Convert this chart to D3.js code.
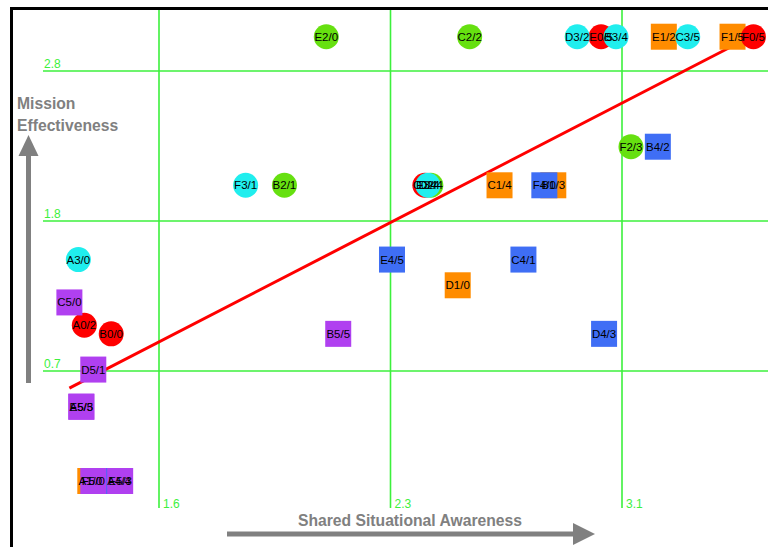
<!DOCTYPE html>
<html>
<head>
<meta charset="utf-8">
<script src="https://cdn.jsdelivr.net/npm/d3@7/dist/d3.min.js"></script>
<style>
  html, body { margin: 0; padding: 0; background: #fff; }
  svg { display: block; font-family: "Liberation Sans", Arial, sans-serif; }
</style>
</head>
<body>
<svg id="chart" width="768" height="547"></svg>
<script>
// Grid ticks (value, printed label)
const xTickValues = [1.55, 2.325, 3.1];
const xTickLabels = ["1.6", "2.3", "3.1"];
const yTickValues = [0.7, 1.75, 2.8];
const yTickLabels = ["0.7", "1.8", "2.8"];

// Teams: label, group (second character), shared awareness, effectiveness
const labels = [
  "A1/0", "E1/2", "F1/5", "C1/4", "B1/3", "D1/0",
  "E0/5", "F0/5", "C0/4", "A0/2", "B0/0",
  "E2/0", "C2/2", "F2/3", "B2/1", "D2/4",
  "D3/2", "B3/4", "C3/5", "F3/1", "E3/4", "A3/0",
  "B4/2", "F4/0", "E4/5", "C4/1", "D4/3", "A4/4",
  "C5/0", "B5/5", "D5/1", "A5/3", "E5/5", "F5/0", "E5/3"
];
const groups = [
  1, 1, 1, 1, 1, 1,
  0, 0, 0, 0, 0,
  2, 2, 2, 2, 2,
  3, 3, 3, 3, 3, 3,
  4, 4, 4, 4, 4, 4,
  5, 5, 5, 5, 5, 5, 5
];
const awareness = [
  1.32, 3.24, 3.47, 2.69, 2.87, 2.55,
  3.03, 3.54, 2.44, 1.30, 1.39,
  2.11, 2.59, 3.13, 1.97, 2.46,
  2.95, 3.08, 3.32, 1.84, 2.45, 1.28,
  3.22, 2.84, 2.33, 2.77, 3.04, 1.416,
  1.25, 2.15, 1.33, 1.29, 1.29, 1.33, 1.42
];
const effectiveness = [
  -0.07, 3.04, 3.04, 2.00, 2.00, 1.30,
  3.04, 3.04, 2.00, 1.02, 0.96,
  3.04, 3.04, 2.27, 2.00, 2.00,
  3.04, 3.04, 3.04, 2.00, 2.00, 1.48,
  2.27, 2.00, 1.48, 1.48, 0.96, -0.07,
  1.18, 0.96, 0.71, 0.45, 0.45, -0.07, -0.07
];

// Least-squares trend line end points
const trendX = [1.25, 3.54];
const trendY = [0.58, 3.05];

// Group styling
const groupColors = ["#ff0000", "#ff8c00", "#66e010", "#20eeee", "#3f6ef5", "#b040f0"];
const groupShapes = ["circle", "square", "circle", "circle", "square", "square"];
const drawOrder = [1, 0, 2, 3, 4, 5];

const svg = d3.select("#chart");
svg.append("rect").attr("width", 768).attr("height", 547).attr("fill", "#fff");

const x = d3.scaleLinear().domain([1.55, 3.1]).range([159, 622]);
const y = d3.scaleLinear().domain([0.7, 2.8]).range([371, 71]);

const grid = "#3cf03c";
const gridG = svg.append("g");

// Horizontal grid lines with labels above the left end
yTickValues.forEach((v, i) => {
  gridG.append("line")
    .attr("x1", 43).attr("x2", 768)
    .attr("y1", y(v)).attr("y2", y(v))
    .attr("stroke", grid).attr("stroke-width", 1.6);
  gridG.append("text")
    .attr("x", 44).attr("y", y(v) - 3)
    .attr("fill", grid).attr("font-size", 12)
    .text(yTickLabels[i]);
});

// Vertical grid lines with labels at the bottom right
xTickValues.forEach((v, i) => {
  gridG.append("line")
    .attr("x1", x(v)).attr("x2", x(v))
    .attr("y1", 8).attr("y2", 508)
    .attr("stroke", grid).attr("stroke-width", 1.6);
  gridG.append("text")
    .attr("x", x(v) + 4).attr("y", 508)
    .attr("fill", grid).attr("font-size", 12)
    .text(xTickLabels[i]);
});

// Panel border (top and left)
svg.append("line").attr("x1", 10).attr("x2", 768).attr("y1", 8.5).attr("y2", 8.5)
  .attr("stroke", "#000").attr("stroke-width", 3);
svg.append("line").attr("x1", 11.5).attr("x2", 11.5).attr("y1", 7).attr("y2", 547)
  .attr("stroke", "#000").attr("stroke-width", 3);

// Axis titles and arrows
const gray = "#808080";
svg.append("text").attr("x", 17).attr("y", 109)
  .attr("fill", gray).attr("font-size", 15.7).attr("font-weight", "bold").text("Mission");
svg.append("text").attr("x", 17).attr("y", 131)
  .attr("fill", gray).attr("font-size", 15.7).attr("font-weight", "bold").text("Effectiveness");
svg.append("rect").attr("x", 26).attr("y", 150).attr("width", 5).attr("height", 233).attr("fill", gray);
svg.append("path").attr("d", "M28.5,135 L38.5,156 L18.5,156 Z").attr("fill", gray);

svg.append("text").attr("x", 410).attr("y", 526).attr("text-anchor", "middle")
  .attr("fill", gray).attr("font-size", 15.7).attr("font-weight", "bold")
  .text("Shared Situational Awareness");
svg.append("rect").attr("x", 227).attr("y", 531.5).attr("width", 350).attr("height", 5).attr("fill", gray);
svg.append("path").attr("d", "M595,534 L573,523 L573,545 Z").attr("fill", gray);

// Trend line
svg.append("line")
  .attr("x1", x(trendX[0])).attr("y1", y(trendY[0]))
  .attr("x2", x(trendX[1])).attr("y2", y(trendY[1]))
  .attr("stroke", "#ff0000").attr("stroke-width", 3);

// Markers
const points = labels.map((l, i) => ({ label: l, g: groups[i], ax: awareness[i], ef: effectiveness[i] }));
const ordered = [];
drawOrder.forEach(g => points.filter(p => p.g === g).forEach(p => ordered.push(p)));

const markG = svg.append("g");
ordered.forEach(p => {
  const cx = x(p.ax), cy = y(p.ef);
  if (groupShapes[p.g] === "circle") {
    markG.append("circle").attr("cx", cx).attr("cy", cy).attr("r", 12.5)
      .attr("fill", groupColors[p.g]);
  } else {
    markG.append("rect").attr("x", cx - 13).attr("y", cy - 13)
      .attr("width", 26).attr("height", 26)
      .attr("fill", groupColors[p.g]);
  }
});

// Marker labels on top
const labG = svg.append("g");
ordered.forEach(p => {
  labG.append("text")
    .attr("x", x(p.ax)).attr("y", y(p.ef) + 4)
    .attr("text-anchor", "middle")
    .attr("font-size", 11.5).attr("fill", "#000")
    .text(p.label);
});
</script>
</body>
</html>
